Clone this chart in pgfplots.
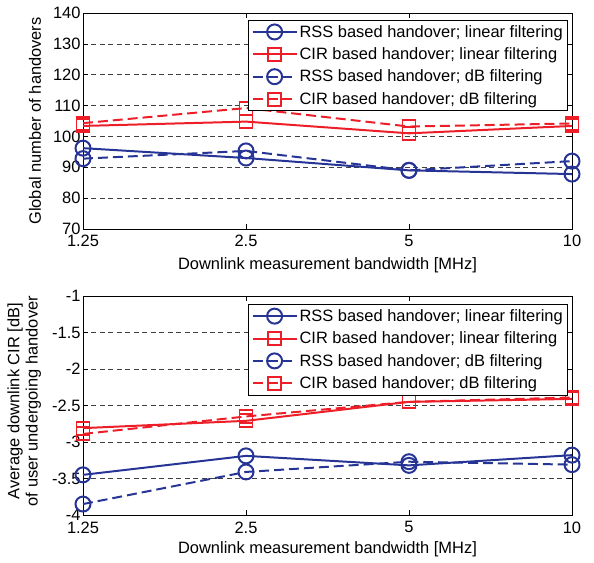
\documentclass[border=0pt]{standalone}
\usepackage{pgfplots}
\pgfplotsset{compat=1.18}
\usepackage{fontspec}
\setmainfont{Liberation Sans}
\definecolor{mblue}{RGB}{38,52,150}
\definecolor{mred}{RGB}{237,30,40}
\begin{document}
\begin{tikzpicture}[font=\fontsize{16.5}{19}\selectfont]
\path[use as bounding box] (-83bp,13bp) rectangle (511bp,-550bp);
\pgfplotsset{
  every axis/.append style={
    scale only axis,
    width=489bp,
    xmode=log, log basis x=2,
    xmin=1.25, xmax=10,
    xtick={1.25,2.5,5,10},
    xticklabels={1.25,2.5,5,10},
    tick align=inside,
    major tick length=5bp,
    ymajorgrids,
    major grid style={dash pattern=on 5pt off 3.5pt, black!75, line width=0.7pt},
    axis line style={black, line width=0.9pt},
    tick style={black, line width=0.7pt},
    /pgf/number format/assume math mode=true,
    xticklabel style={yshift=-3bp},
    yticklabel style={xshift=1bp},
    xlabel={Downlink measurement bandwidth [MHz]},
    legend cell align=left,
    legend style={draw=black, line width=0.7pt, row sep=5pt, inner xsep=3pt, inner ysep=3pt, font=\fontsize{16.5}{19}\selectfont},
    legend image code/.code={
      \draw[#1] (0bp,0bp) -- (44bp,0bp);
      \draw[#1, solid] plot coordinates {(22bp,0bp)};
    },
    ticklabel style={font=\fontsize{16.5}{19}\selectfont},
  },
  rsslin/.style={mblue, line width=2pt, mark=o, mark size=7.5bp, mark options={solid, line width=2pt}},
  cirlin/.style={mred, line width=2pt, mark=square, mark size=6.5bp, mark options={solid, line width=2pt}},
  rssdb/.style={mblue, line width=2pt, dash pattern=on 10pt off 5pt, mark=o, mark size=7.5bp, mark options={solid, line width=2pt}},
  cirdb/.style={mred, line width=2pt, dash pattern=on 10pt off 5pt, mark=square, mark size=6.5bp, mark options={solid, line width=2pt}},
}
\begin{axis}[
  at={(0,0)}, anchor=north west,
  height=216bp,
  ymin=70, ymax=140, ytick={70,80,...,140},
  ylabel={Global number of handovers},
  every axis y label/.style={at={(axis description cs:-0.098,0.5)}, rotate=90, anchor=center},
  every axis x label/.style={at={(axis description cs:0.5,-0.167)}, anchor=center},
  legend style={at={(0.992,0.968)}, anchor=north east},
]
\addplot[rsslin] coordinates {(1.25,96.2) (2.5,93) (5,89) (10,87.8)};
\addlegendentry{RSS based handover; linear filtering}
\addplot[cirlin] coordinates {(1.25,103.4) (2.5,104.8) (5,101) (10,103.4)};
\addlegendentry{CIR based handover; linear filtering}
\addplot[rssdb] coordinates {(1.25,92.8) (2.5,95.3) (5,89) (10,92)};
\addlegendentry{RSS based handover; dB filtering}
\addplot[cirdb] coordinates {(1.25,104.3) (2.5,109.2) (5,103.2) (10,104.2)};
\addlegendentry{CIR based handover; dB filtering}
\end{axis}
\begin{axis}[
  at={(0,-283bp)}, anchor=north west,
  height=219bp,
  ymin=-4, ymax=-1, ytick={-4,-3.5,...,-1},
  yticklabels={-4,-3.5,-3,-2.5,-2,-1.5,-1},
  ylabel={\shortstack{Average downlink CIR [dB]\\of user undergoing handover}},
  every axis y label/.style={at={(axis description cs:-0.12,0.52)}, rotate=90, anchor=center},
  every axis x label/.style={at={(axis description cs:0.5,-0.155)}, anchor=center},
  legend style={at={(0.992,0.963)}, anchor=north east},
]
\addplot[rsslin] coordinates {(1.25,-3.45) (2.5,-3.19) (5,-3.32) (10,-3.18)};
\addlegendentry{RSS based handover; linear filtering}
\addplot[cirlin] coordinates {(1.25,-2.81) (2.5,-2.71) (5,-2.45) (10,-2.41)};
\addlegendentry{CIR based handover; linear filtering}
\addplot[rssdb] coordinates {(1.25,-3.85) (2.5,-3.41) (5,-3.27) (10,-3.31)};
\addlegendentry{RSS based handover; dB filtering}
\addplot[cirdb] coordinates {(1.25,-2.89) (2.5,-2.65) (5,-2.45) (10,-2.39)};
\addlegendentry{CIR based handover; dB filtering}
\end{axis}
\end{tikzpicture}
\end{document}
